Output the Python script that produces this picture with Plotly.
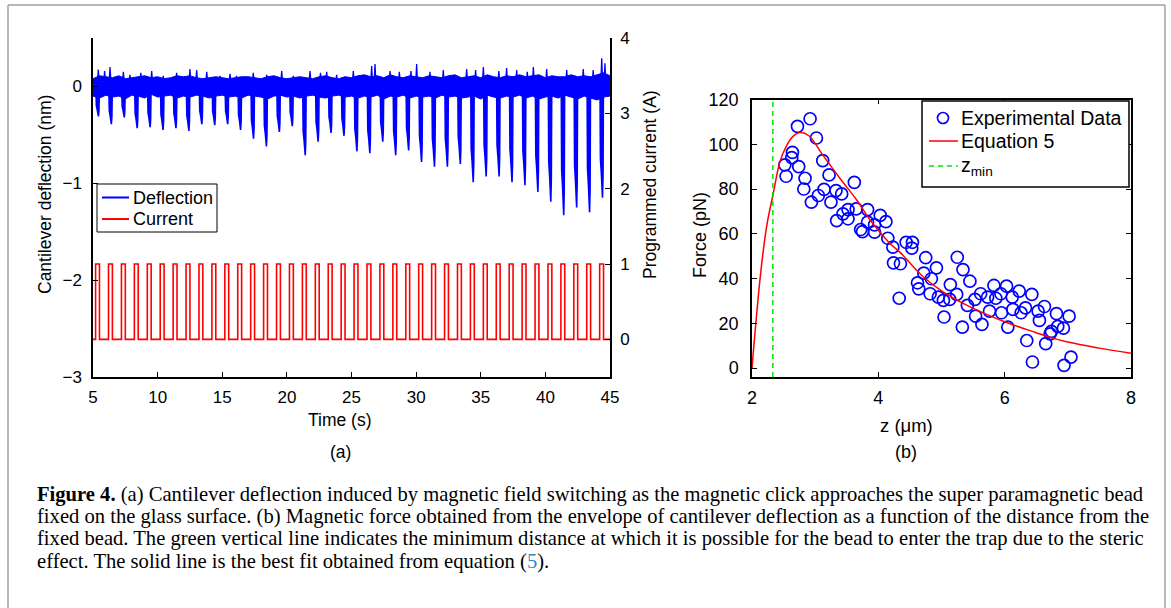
import plotly.graph_objects as go

W, H = 1171, 608

# ---------------- panel (a) data ----------------
pulse_start = [5.2, 6.2, 7.2, 8.2, 9.2, 10.2, 11.2, 12.2, 13.2, 14.2,
               15.2, 16.2, 17.2, 18.2, 19.2, 20.2, 21.2, 22.2, 23.2, 24.2,
               25.2, 26.2, 27.2, 28.2, 29.2, 30.2, 31.2, 32.2, 33.2, 34.2,
               35.2, 36.2, 37.2, 38.2, 39.2, 40.2, 41.2, 42.2, 43.2, 44.2]
pulse_width = 0.3
current_on = 1.0
current_off = 0.0

dip_depth = [0.31, 0.39, 0.32, 0.43, 0.42, 0.45, 0.43, 0.46, 0.39, 0.40,
             0.39, 0.45, 0.54, 0.62, 0.47, 0.41, 0.71, 0.57, 0.48, 0.51,
             0.67, 0.69, 0.57, 0.71, 0.66, 0.78, 0.83, 0.83, 0.80, 0.99,
             0.93, 0.93, 0.99, 1.02, 1.09, 1.19, 1.33, 1.25, 1.30, 1.15]

# core of the noise band (every 0.5 s)
band_hi = [0.08, 0.11, 0.10, 0.09, 0.11, 0.08, 0.09, 0.10, 0.11, 0.09,
           0.10, 0.08, 0.09, 0.11, 0.10, 0.11, 0.09, 0.08, 0.09, 0.10,
           0.09, 0.08, 0.09, 0.10, 0.10, 0.09, 0.08, 0.10, 0.11, 0.09,
           0.08, 0.09, 0.10, 0.09, 0.08, 0.10, 0.11, 0.09, 0.08, 0.10,
           0.09, 0.11, 0.12, 0.10, 0.11, 0.09, 0.12, 0.10, 0.09, 0.11,
           0.10, 0.09, 0.11, 0.10, 0.09, 0.11, 0.12, 0.09, 0.10, 0.11,
           0.09, 0.12, 0.10, 0.09, 0.11, 0.10, 0.12, 0.10, 0.11, 0.12,
           0.09, 0.11, 0.10, 0.10, 0.12, 0.10, 0.11, 0.10, 0.12, 0.14,
           0.11]
band_lo = [-0.10, -0.12, -0.09, -0.11, -0.10, -0.13, -0.09, -0.10, -0.12, -0.08,
           -0.11, -0.10, -0.09, -0.12, -0.10, -0.11, -0.09, -0.10, -0.12, -0.10,
           -0.09, -0.11, -0.10, -0.12, -0.09, -0.10, -0.11, -0.13, -0.10, -0.09,
           -0.11, -0.10, -0.12, -0.10, -0.09, -0.11, -0.12, -0.10, -0.09, -0.11,
           -0.10, -0.12, -0.10, -0.11, -0.09, -0.13, -0.10, -0.11, -0.09, -0.12,
           -0.10, -0.11, -0.10, -0.12, -0.09, -0.11, -0.10, -0.12, -0.11, -0.10,
           -0.13, -0.09, -0.11, -0.12, -0.10, -0.11, -0.09, -0.12, -0.10, -0.13,
           -0.11, -0.10, -0.12, -0.09, -0.11, -0.13, -0.10, -0.12, -0.14, -0.11,
           -0.10]
band_t = [5 + 0.5 * i for i in range(len(band_hi))]

# upward noise spikes
spike_t = [5.41, 6.32, 7.35, 7.86, 9.54, 10.44, 11.47, 12.5, 13.02, 13.8,
           14.83, 16.1, 17.4, 18.44, 19.6, 20.5, 21.79, 23.08, 23.85, 25.14,
           26.56, 26.82, 27.98, 30.04, 31.07, 32.1, 33.91, 35.2, 37.0, 37.78,
           39.07, 40.1, 41.65, 42.93, 44.36, 44.61, 5.9, 8.7, 15.6, 22.6,
           28.7, 29.6, 34.6, 36.4, 38.6, 43.7]
spike_h = [0.175, 0.20, 0.15, 0.12, 0.16, 0.11, 0.14, 0.18, 0.17, 0.15,
           0.11, 0.11, 0.14, 0.12, 0.16, 0.11, 0.16, 0.15, 0.12, 0.16,
           0.21, 0.23, 0.16, 0.23, 0.15, 0.17, 0.18, 0.20, 0.19, 0.17,
           0.20, 0.18, 0.17, 0.18, 0.29, 0.24, 0.16, 0.14, 0.13, 0.14,
           0.15, 0.16, 0.17, 0.16, 0.15, 0.17]

time_ticks = [5, 10, 15, 20, 25, 30, 35, 40, 45]
defl_ticks = [-3, -2, -1, 0]
defl_ticktext = ["\u22123", "\u22122", "\u22121", "0"]
curr_ticks = [0, 1, 2, 3, 4]

# ---------------- panel (b) data ----------------
exp_z = [2.92, 2.72, 3.02, 2.64, 2.63, 2.52, 2.74, 3.12, 2.54, 2.84,
         3.22, 2.82, 3.62, 3.14, 3.33, 3.42, 3.05, 2.94, 3.25, 3.52,
         3.44, 3.65, 3.83, 3.52, 3.34, 4.03, 4.12, 3.83, 3.94, 3.72,
         3.75, 3.94, 4.15, 4.23, 4.44, 4.24, 4.35, 4.33, 4.54, 4.53,
         4.75, 5.25, 4.92, 5.34, 4.72, 4.84, 5.45, 4.62, 4.64, 5.14,
         4.82, 4.95, 5.03, 5.13, 5.24, 5.04, 5.33, 5.41, 5.53, 5.62,
         5.54, 5.64, 5.73, 5.83, 5.86, 5.94, 5.76, 5.95, 6.03, 6.12,
         6.23, 6.05, 6.13, 6.26, 6.33, 6.43, 6.53, 6.55, 6.63, 6.35,
         6.44, 6.65, 6.74, 6.82, 7.02, 6.93, 6.84, 6.72, 6.94, 7.05]
exp_F = [111.4, 108.0, 102.8, 96.4, 94.0, 90.8, 90.0, 92.7, 85.7, 84.8,
         86.3, 80.0, 83.0, 79.8, 79.3, 77.8, 77.1, 74.1, 74.1, 70.8,
         68.9, 71.1, 70.8, 66.7, 65.9, 68.2, 65.4, 65.2, 64.0, 61.9,
         61.0, 60.7, 58.0, 54.0, 56.2, 47.0, 46.6, 31.2, 56.2, 53.6,
         49.3, 49.5, 44.8, 44.0, 42.4, 39.9, 38.8, 38.1, 35.4, 37.3,
         33.2, 31.7, 30.2, 30.7, 32.9, 22.8, 18.3, 28.0, 30.7, 33.2,
         23.2, 19.5, 31.7, 36.9, 31.2, 33.2, 25.4, 24.7, 36.6, 31.7,
         34.4, 18.3, 26.2, 24.7, 26.9, 32.9, 25.4, 21.3, 27.5, 12.3,
         2.7, 10.9, 16.4, 24.3, 23.2, 17.8, 18.6, 15.3, 1.2, 4.9]

fit_z = [2.0, 2.13, 2.23, 2.34, 2.44, 2.55, 2.65, 2.76, 2.9, 3.13,
         3.4, 3.66, 3.9, 4.18, 4.34, 4.71, 5.0, 5.42, 6.0, 6.5,
         6.72, 7.0, 7.5, 8.0]
fit_F = [0.0, 40.5, 63.0, 78.5, 92.0, 99.5, 103.5, 105.2, 103.8, 94.8,
         84.5, 75.0, 65.0, 55.8, 51.8, 40.8, 34.5, 27.8, 20.7, 15.8,
         13.7, 11.6, 8.9, 6.6]

z_min = 2.33
force_range = [-4, 120]
z_ticks = [2, 4, 6, 8]
force_ticks = [0, 20, 40, 60, 80, 100, 120]

# ---------------- styles ----------------
BLUE = "#0000ff"
RED = "#ff0000"
GREEN = "#00e600"
SANS = "Liberation Sans, Arial, sans-serif"
SERIF = "Liberation Serif, Times New Roman, serif"


def fx(p):
    return p / W


def fy(p):
    return 1 - p / H


fig = go.Figure()

# deflection noise band
fig.add_trace(go.Scatter(
    x=band_t + band_t[::-1], y=band_hi + band_lo[::-1],
    fill="toself", fillcolor=BLUE, line=dict(color=BLUE, width=1),
    mode="lines", showlegend=False, hoverinfo="skip",
    xaxis="x", yaxis="y"))

# upward noise spikes
sx, sy = [], []
for t, h in zip(spike_t, spike_h):
    sx += [t - 0.06, t, t + 0.06, None]
    sy += [0.06, h, 0.06, None]
fig.add_trace(go.Scatter(
    x=sx, y=sy, mode="lines", line=dict(color=BLUE, width=1.3),
    showlegend=False, hoverinfo="skip", xaxis="x", yaxis="y"))

# deflection dips (one per current pulse), filled
dip_off = [0.03, 0.06, 0.13, 0.19, 0.22, 0.26, 0.29]
dip_frac = [None, 0.65, 0.78, 0.9, 1.0, 0.8, None]
dx, dy = [], []
for p, d in zip(pulse_start, dip_depth):
    for o, f in zip(dip_off, dip_frac):
        dx.append(p + o)
        dy.append(-0.05 if f is None else -f * d)
    dx.append(None)
    dy.append(None)
fig.add_trace(go.Scatter(
    x=dx, y=dy, mode="lines", fill="toself", fillcolor=BLUE,
    line=dict(color=BLUE, width=1.6),
    showlegend=False, xaxis="x", yaxis="y"))

# current square wave
cx, cy = [time_ticks[0]], [current_off]
for p in pulse_start:
    cx += [p, p, p + pulse_width, p + pulse_width]
    cy += [current_off, current_on, current_on, current_off]
cx.append(time_ticks[-1])
cy.append(current_off)
fig.add_trace(go.Scatter(
    x=cx, y=cy, mode="lines", line=dict(color=RED, width=1.6),
    showlegend=False, xaxis="x", yaxis="y2"))

# panel (b)
fig.add_trace(go.Scatter(
    x=exp_z, y=exp_F, mode="markers",
    marker=dict(symbol="circle-open", size=12, color=BLUE,
                line=dict(color=BLUE, width=1.7)),
    showlegend=False, xaxis="x2", yaxis="y3"))
fig.add_trace(go.Scatter(
    x=fit_z, y=fit_F, mode="lines", line=dict(color=RED, width=1.5, shape="spline"),
    showlegend=False, xaxis="x2", yaxis="y3"))
fig.add_trace(go.Scatter(
    x=[z_min, z_min], y=force_range, mode="lines",
    line=dict(color=GREEN, width=1.5, dash="5px,4px"),
    showlegend=False, xaxis="x2", yaxis="y3"))

# ---------------- layout ----------------
axis_common = dict(showline=True, linecolor="black", linewidth=1.5,
                   ticks="inside", ticklen=5, tickcolor="black", tickwidth=1,
                   showgrid=False, zeroline=False, automargin=False,
                   tickfont=dict(family=SANS, size=17, color="black"))

fig.update_layout(
    width=W, height=H, autosize=False,
    margin=dict(l=0, r=0, t=0, b=0, pad=0, autoexpand=False),
    paper_bgcolor="white", plot_bgcolor="white",
    showlegend=False,
    xaxis=dict(domain=[fx(93), fx(610)], range=[5, 45], tickvals=time_ticks,
               anchor="y", ticklabelstandoff=4, **axis_common),
    yaxis=dict(domain=[fy(377), fy(38)], range=[-3, 0.5], tickvals=defl_ticks,
               ticktext=defl_ticktext, anchor="x", ticklabelstandoff=6, **axis_common),
    yaxis2=dict(domain=[fy(377), fy(38)], range=[-0.5, 4], tickvals=curr_ticks,
                overlaying="y", side="right", anchor="x", ticklabelstandoff=5,
                **axis_common),
    xaxis2=dict(domain=[fx(752), fx(1131)], range=[2, 8], tickvals=z_ticks,
                anchor="y3", mirror="ticks", ticklabelstandoff=4, **axis_common),
    yaxis3=dict(domain=[fy(377), fy(99.5)], range=force_range, tickvals=force_ticks,
                anchor="x2", mirror="ticks", ticklabelstandoff=8, **axis_common),
)
fig.layout.xaxis2.tickfont.size = 18
fig.layout.yaxis3.tickfont.size = 18

ann = []
shapes = []


def label(text, x, y, size=18, angle=0, family=SANS, xanchor="center", color="black"):
    ann.append(dict(text=text, x=fx(x), y=fy(y), xref="paper", yref="paper",
                    showarrow=False, textangle=angle, xanchor=xanchor,
                    yanchor="middle", font=dict(family=family, size=size, color=color)))


def hline(x0, x1, y, color, width=1.5, dash="solid"):
    shapes.append(dict(type="line", xref="paper", yref="paper",
                       x0=fx(x0), x1=fx(x1), y0=fy(y), y1=fy(y),
                       line=dict(color=color, width=width, dash=dash)))


def box(x0, x1, y0, y1, width=1):
    shapes.append(dict(type="rect", xref="paper", yref="paper",
                       x0=fx(x0), x1=fx(x1), y0=fy(y1), y1=fy(y0),
                       fillcolor="white", line=dict(color="black", width=width),
                       layer="above"))


# axis titles and panel labels
label("Cantilever deflection (nm)", 45, 195, size=17.5, angle=-90)
label("Programmed current (A)", 650, 185, size=17.5, angle=-90)
label("Time (s)", 340, 420, size=17.5)
label("(a)", 340, 452, size=17.5)
label("Force (pN)", 700, 235, size=18, angle=-90)
label("z (\u03bcm)", 906, 425, size=18.5)
label("(b)", 906, 452, size=18)

# legend (a)
box(97, 217, 184, 232)
hline(102, 129, 197.5, BLUE, 2)
hline(102, 129, 219, RED, 2)
label("Deflection", 131, 197.5, size=18, xanchor="left")
label("Current", 131, 219, size=18, xanchor="left")

# legend (b)
box(922, 1129, 101, 187, width=1.5)
shapes.append(dict(type="circle", xref="paper", yref="paper",
                   x0=fx(937.5), x1=fx(948.5), y0=fy(123.5), y1=fy(112.5),
                   line=dict(color=BLUE, width=1.7), layer="above"))
hline(929, 958, 141, RED, 1.5)
hline(929, 958, 166, GREEN, 1.5, "5px,4px")
label("Experimental Data", 959, 118, size=19.5, xanchor="left")
label("Equation 5", 959, 141, size=19.5, xanchor="left")
label("z<sub>min</sub>", 959, 166, size=19.5, xanchor="left")

# caption
caption = [
    "<b>Figure 4.</b> (a) Cantilever deflection induced by magnetic field switching as the magnetic click approaches the super paramagnetic bead",
    "fixed on the glass surface. (b) Magnetic force obtained from the envelope of cantilever deflection as a function of the distance from the",
    "fixed bead. The green vertical line indicates the minimum distance at which it is possible for the bead to enter the trap due to the steric",
    "effect. The solid line is the best fit obtained from equation (<span style='color:#2a8bc4'>5</span>).",
]
for i, line in enumerate(caption):
    label(line, 35, 494 + 22.4 * i, size=20.6, family=SERIF, xanchor="left")

# outer frame
frame = dict(type="line", xref="paper", yref="paper",
             line=dict(color="#a0a0a0", width=1.5))
shapes += [
    dict(frame, x0=fx(8), x1=fx(1165), y0=fy(5), y1=fy(5)),
    dict(frame, x0=fx(8), x1=fx(8), y0=fy(5), y1=fy(608)),
    dict(frame, x0=fx(1165), x1=fx(1165), y0=fy(5), y1=fy(608)),
]

fig.update_layout(annotations=ann, shapes=shapes)

fig.write_html("out.html",
               config={"displayModeBar": False},
               post_script="document.body.style.margin='0';document.body.style.overflow='hidden';")
